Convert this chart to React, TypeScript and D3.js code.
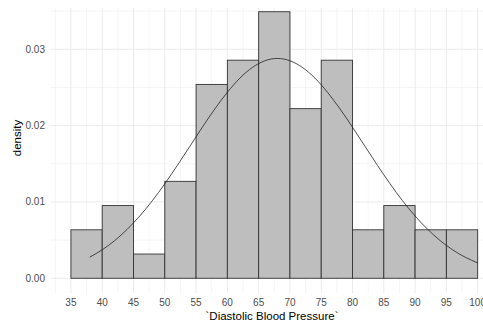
import React, { useRef, useEffect } from 'react';
import { select, scaleLinear, line, curveNatural, range } from 'd3';

// histogram: 5-unit bins, counts out of n = 63
const binStarts = [35, 40, 45, 50, 55, 60, 65, 70, 75, 80, 85, 90, 95];
const binCounts = [2, 3, 1, 4, 8, 9, 11, 7, 9, 2, 3, 2, 2];
const nObs = 63;
const binWidth = 5;

// fitted normal curve
const curveX = [38, 40, 42, 44, 46, 48, 50, 52, 54, 56, 58, 60, 62, 64, 66, 68, 70, 72, 74, 76, 78, 80, 82, 84, 86, 88, 90, 92, 94, 96, 98, 100];
const curveY = [0.00276, 0.00373, 0.00494, 0.00642, 0.00816, 0.01015, 0.01238, 0.01478, 0.01728, 0.01979, 0.02219, 0.02437, 0.02622, 0.02762, 0.0285, 0.0288, 0.0285, 0.02762, 0.02622, 0.02437, 0.02219, 0.01979, 0.01728, 0.01478, 0.01238, 0.01015, 0.00816, 0.00642, 0.00494, 0.00373, 0.00276, 0.00201];

const xTicks = [35, 40, 45, 50, 55, 60, 65, 70, 75, 80, 85, 90, 95, 100];
const yTicks = [0, 0.01, 0.02, 0.03];
const yMinor = [0.005, 0.015, 0.025, 0.035];

const W = 483;
const H = 322;

const Histogram: React.FC = () => {
  const svgRef = useRef<SVGSVGElement | null>(null);

  useEffect(() => {
    if (!svgRef.current) return;
    const svg = select(svgRef.current);
    svg.selectAll('*').remove();

    const panel = { left: 50.6, right: 498, top: 8, bottom: 293 };
    const x = scaleLinear().domain([31.75, 103.25]).range([panel.left, panel.right]);
    const y = scaleLinear().domain([-0.00193, 0.03541]).range([panel.bottom, panel.top]);

    const grid = svg.append('g');
    const xMinor = range(32.5, 105, 5);
    grid.selectAll('.xminor').data(xMinor).enter().append('line')
      .attr('x1', d => x(d)).attr('x2', d => x(d))
      .attr('y1', panel.top).attr('y2', panel.bottom)
      .attr('stroke', '#ebebeb').attr('stroke-width', 0.5);
    grid.selectAll('.yminor').data(yMinor).enter().append('line')
      .attr('x1', panel.left).attr('x2', panel.right)
      .attr('y1', d => y(d)).attr('y2', d => y(d))
      .attr('stroke', '#ebebeb').attr('stroke-width', 0.5);
    grid.selectAll('.xmajor').data(xTicks).enter().append('line')
      .attr('x1', d => x(d)).attr('x2', d => x(d))
      .attr('y1', panel.top).attr('y2', panel.bottom)
      .attr('stroke', '#ebebeb').attr('stroke-width', 1);
    grid.selectAll('.ymajor').data(yTicks).enter().append('line')
      .attr('x1', panel.left).attr('x2', panel.right)
      .attr('y1', d => y(d)).attr('y2', d => y(d))
      .attr('stroke', '#ebebeb').attr('stroke-width', 1);

    const bins = binStarts.map((s, i) => ({ x0: s, x1: s + binWidth, density: binCounts[i] / (nObs * binWidth) }));
    svg.append('g').selectAll('rect').data(bins).enter().append('rect')
      .attr('x', d => x(d.x0))
      .attr('width', d => x(d.x1) - x(d.x0))
      .attr('y', d => y(d.density))
      .attr('height', d => y(0) - y(d.density))
      .attr('fill', '#bebebe')
      .attr('stroke', '#333333')
      .attr('stroke-width', 0.9);

    const pts = curveX.map((v, i) => [v, curveY[i]] as [number, number]);
    const path = line<[number, number]>().x(d => x(d[0])).y(d => y(d[1])).curve(curveNatural);
    svg.append('path').attr('d', path(pts) ?? '')
      .attr('fill', 'none').attr('stroke', '#222').attr('stroke-width', 0.8);

    const font = '"Liberation Sans", Arial, sans-serif';
    svg.append('g').selectAll('text').data(xTicks).enter().append('text')
      .attr('x', d => x(d)).attr('y', 306)
      .attr('text-anchor', 'middle')
      .attr('font-family', font).attr('font-size', 10).attr('fill', '#4d4d4d')
      .text(d => String(d));
    svg.append('g').selectAll('text').data(yTicks).enter().append('text')
      .attr('x', 45).attr('y', d => y(d) + 3.5)
      .attr('text-anchor', 'end')
      .attr('font-family', font).attr('font-size', 10).attr('fill', '#4d4d4d')
      .text(d => d.toFixed(2));

    svg.append('text').attr('x', 272).attr('y', 320)
      .attr('text-anchor', 'middle')
      .attr('font-family', font).attr('font-size', 11.5).attr('fill', '#000')
      .text('`Diastolic Blood Pressure`');
    svg.append('text').attr('transform', 'translate(20.5,138) rotate(-90)')
      .attr('text-anchor', 'middle')
      .attr('font-family', font).attr('font-size', 11.5).attr('fill', '#000')
      .text('density');
  }, []);

  return <svg ref={svgRef} width={W} height={H} style={{ display: 'block', background: '#fff' }} />;
};

export default function App() {
  return (
    <div style={{ position: 'absolute', left: 0, top: 0, width: W, height: H, overflow: 'hidden' }}>
      <Histogram />
    </div>
  );
}
